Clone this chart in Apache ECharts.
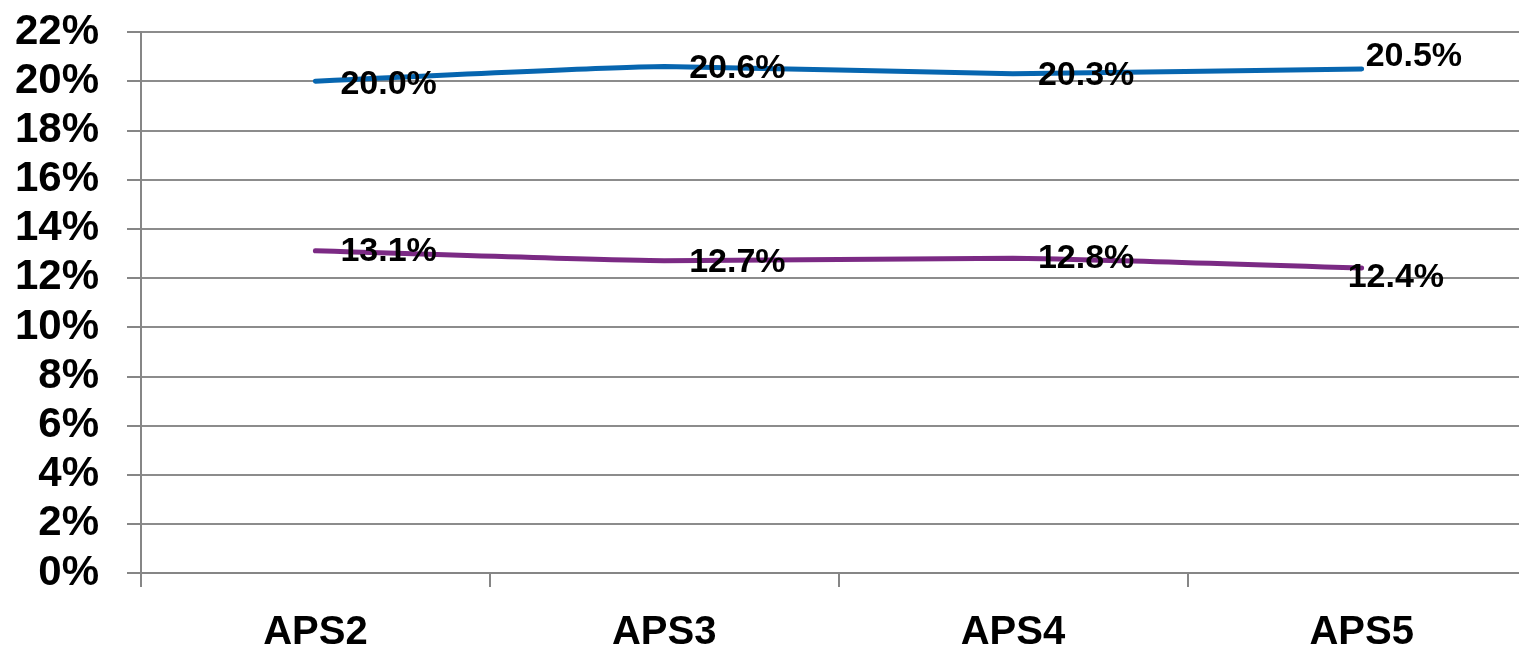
<!DOCTYPE html>
<html>
<head>
<meta charset="utf-8">
<title>APS</title>
<script src="https://cdn.jsdelivr.net/npm/echarts@6/dist/echarts.min.js"></script>
<style>
  html, body { margin: 0; padding: 0; background: #ffffff; }
  #chart { width: 1519px; height: 649px; }
</style>
</head>
<body>
<div id="chart"></div>
<script>
// Categories and the two percentage series
const categories = ['APS2', 'APS3', 'APS4', 'APS5'];
const seriesBlue = [20.0, 20.6, 20.3, 20.5];
const seriesPurple = [13.1, 12.7, 12.8, 12.4];
// Value axis range (percent)
const yMin = 0;
const yMax = 22;
const yStep = 2;

const chart = echarts.init(document.getElementById('chart'), null, { renderer: 'canvas' });

const labelFont = {
  fontFamily: '"Liberation Sans", Arial, sans-serif',
  fontWeight: 'bold',
  fontSize: 34,
  color: '#000000'
};

// Per-point label nudges, in category order
const blueOffsets = [[0, 3], [0, 2], [0, 2], [-21, -12]];
const purpleOffsets = [[0, 1], [0, 2], [0, 0], [-39, 10]];

function withLabels(values, offsets) {
  return values.map((v, i) => ({
    value: v,
    label: { offset: offsets[i] }
  }));
}

function lineSeries(name, values, offsets, color) {
  return {
    name: name,
    type: 'line',
    data: withLabels(values, offsets),
    smooth: 0.12,
    symbol: 'circle',
    symbolSize: 0.1,
    showSymbol: true,
    lineStyle: { color: color, width: 5, cap: 'round' },
    itemStyle: { color: color },
    label: Object.assign({
      show: true,
      position: 'right',
      distance: 25,
      formatter: p => p.value.toFixed(1) + '%'
    }, labelFont),
    z: 3
  };
}

const option = {
  animation: false,
  backgroundColor: '#ffffff',
  grid: {
    left: 141, top: 32, bottom: 76, right: -17,
    containLabel: false,
    outerBoundsMode: 'none'
  },
  xAxis: {
    type: 'category',
    data: categories,
    boundaryGap: true,
    axisLine: { show: true, lineStyle: { color: '#868686', width: 2 } },
    axisTick: { show: true, length: 14, alignWithLabel: false, lineStyle: { color: '#868686', width: 2 } },
    axisLabel: {
      margin: 40,
      fontFamily: '"Liberation Sans Narrow", "Arial Narrow", "Liberation Sans", sans-serif',
      fontWeight: 'bold',
      fontSize: 40,
      color: '#000000'
    },
    splitLine: { show: false }
  },
  yAxis: {
    type: 'value',
    min: yMin,
    max: yMax,
    interval: yStep,
    axisLine: { show: true, lineStyle: { color: '#868686', width: 2 } },
    axisTick: { show: true, length: 14, lineStyle: { color: '#868686', width: 2 } },
    axisLabel: {
      margin: 42,
      formatter: '{value}%',
      fontFamily: '"Liberation Sans", Arial, sans-serif',
      fontWeight: 'bold',
      fontSize: 42,
      color: '#000000'
    },
    splitLine: { show: true, lineStyle: { color: '#8c8c8c', width: 2 } }
  },
  series: [
    lineSeries('blue', seriesBlue, blueOffsets, '#0766B0'),
    lineSeries('purple', seriesPurple, purpleOffsets, '#7B2A84')
  ]
};

chart.setOption(option);
</script>
</body>
</html>
